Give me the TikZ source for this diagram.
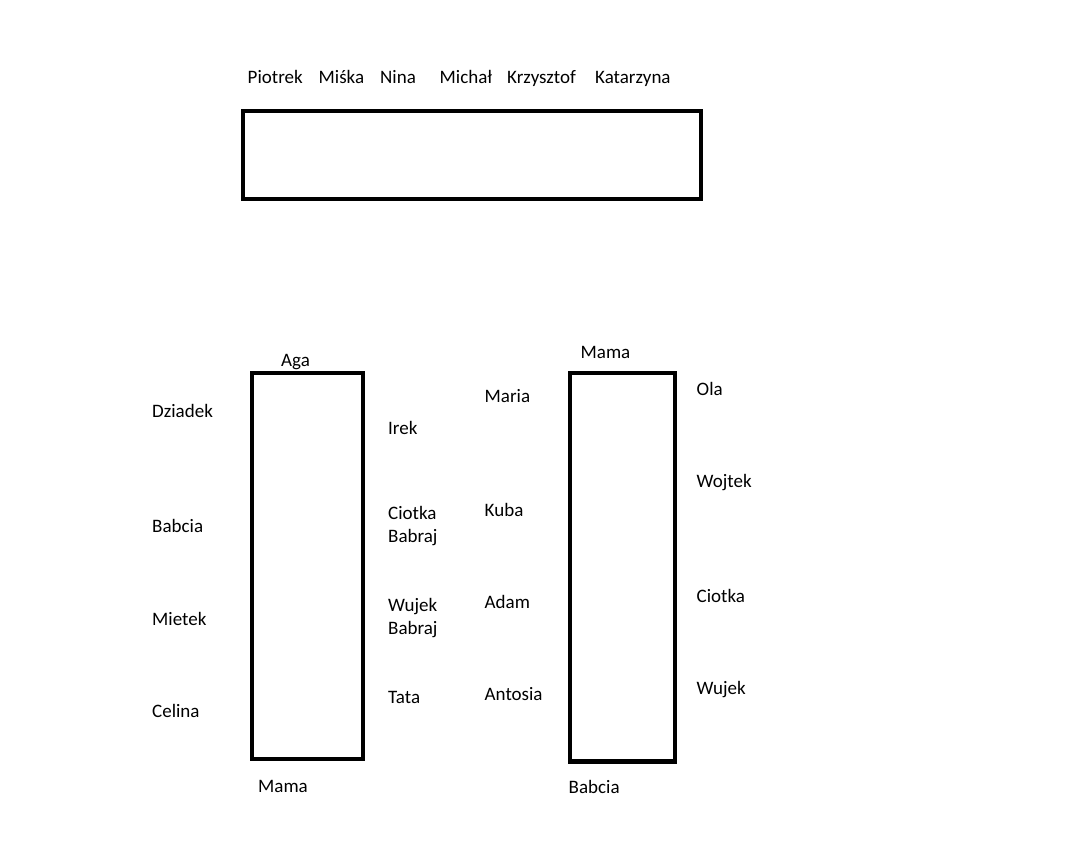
\documentclass[tikz,border=0pt]{standalone}
\usepackage{fontspec}
\setmainfont{Carlito}
\begin{document}
\begin{tikzpicture}[x=1pt,y=-1pt,
  lbl/.style={anchor=base west,inner sep=0pt,font=\fontsize{19}{23}\selectfont,align=left},
  tbl/.style={draw=black,line width=4.2pt}]
\useasboundingbox (0,0) rectangle (1084,861);
% tables
\draw[tbl] (243,111) rectangle (701,199);
\draw[tbl] (252,372.7) rectangle (363,759.3);
\draw[tbl] (569.7,372.7) rectangle (674.8,761.5);
% top row
\node[lbl] (piotrek) at (247.5,83.3) {Piotrek};
\node[lbl] (miska) at (318.5,83.3) {Miśka};
\node[lbl] (nina) at (380,83.3) {Nina};
\node[lbl] (michal) at (439.5,83.3) {Michał};
\node[lbl] (krzysztof) at (507,83.3) {Krzysztof};
\node[lbl] (katarzyna) at (595,83.3) {Katarzyna};
% left table
\node[lbl] (aga) at (281,366) {Aga};
\node[lbl] (dziadek) at (152,417.3) {Dziadek};
\node[lbl] (babcia1) at (152,532.7) {Babcia};
\node[lbl] (mietek) at (152,625) {Mietek};
\node[lbl] (celina) at (152,717) {Celina};
\node[lbl] (irek) at (388,434.7) {Irek};
\node[lbl] (ciotka1) at (388,519.3) {Ciotka};
\node[lbl] (babraj1) at (388,542.7) {Babraj};
\node[lbl] (wujek1) at (388,611.5) {Wujek};
\node[lbl] (babraj2) at (388,634.8) {Babraj};
\node[lbl] (tata) at (388,703.5) {Tata};
\node[lbl] (mama1) at (258,792.3) {Mama};
% right table
\node[lbl] (mama2) at (580.5,358.7) {Mama};
\node[lbl] (maria) at (484.5,402) {Maria};
\node[lbl] (kuba) at (484.5,516.7) {Kuba};
\node[lbl] (adam) at (484.5,608.7) {Adam};
\node[lbl] (antosia) at (484.5,700.7) {Antosia};
\node[lbl] (ola) at (696.5,395.7) {Ola};
\node[lbl] (wojtek) at (696.5,487.7) {Wojtek};
\node[lbl] (ciotka2) at (696.5,602.7) {Ciotka};
\node[lbl] (wujek2) at (696.5,694.7) {Wujek};
\node[lbl] (babcia2) at (568.5,793.3) {Babcia};
\end{tikzpicture}
\end{document}
